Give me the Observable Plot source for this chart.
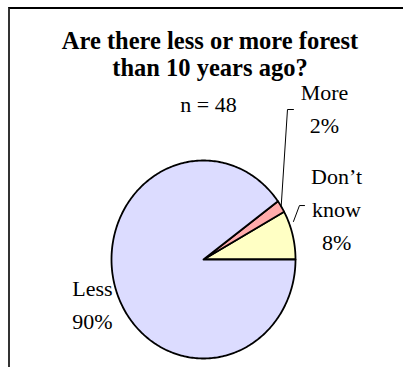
<!DOCTYPE html>
<html><head><meta charset="utf-8">
<script src="https://cdn.jsdelivr.net/npm/d3@7"></script>
<script src="https://cdn.jsdelivr.net/npm/@observablehq/plot@0.6"></script>
<style>
body{margin:0;background:#fff;}
#wrap{position:relative;width:403px;height:367px;overflow:hidden;font-family:"Liberation Serif",serif;}
#frame{position:absolute;left:8px;top:7px;width:420px;height:400px;border-left:2px solid #333;border-top:2px solid #000;}
#title{position:absolute;left:10px;width:400px;top:26.5px;text-align:center;font-weight:bold;font-size:24.5px;line-height:27px;color:#000;font-family:"Liberation Serif",serif;white-space:nowrap;}
#chart{position:absolute;left:0;top:0;}
</style></head>
<body>
<div id="wrap">
  <div id="frame"></div>
  <div id="title">Are there less or more forest<br>than 10 years ago?</div>
  <div id="chart"></div>
</div>
<script>
// ---- data (counter-clockwise from 3 o'clock) ----
const categories = ["Don’t know", "More", "Less"];
const shares = [8, 2, 90];
const labelLines = [["Don’t", "know"], ["More"], ["Less"]];
const sampleSize = 48;

// ---- layout (data units of the unit circle) ----
const patterns = ["url(#pDK)", "url(#pMore)", "url(#pLess)"];
const labelAnchor = [[1.446, 0.535], [1.315, 1.553], [-1.207, -0.432]];
const leaderElbow = [[[0.978, 0.384], [1.043, 0.545], [1.098, 0.545]],
                     [null, [0.913, 1.515], [0.978, 1.515]],
                     null];

const total = d3.sum(shares);
let cum = 0;
const slices = categories.map((c, i) => {
  const a0 = 2 * Math.PI * cum / total;
  cum += shares[i];
  const a1 = 2 * Math.PI * cum / total;
  return {cat: c, a0, a1, share: shares[i], i};
});

const pts = [];
for (const s of slices) {
  pts.push({cat: s.cat, x: 0, y: 0});
  const n = Math.max(4, Math.ceil((s.a1 - s.a0) / (Math.PI / 180)));
  for (let k = 0; k <= n; k++) {
    const a = s.a0 + (s.a1 - s.a0) * k / n;
    pts.push({cat: s.cat, x: Math.cos(a), y: Math.sin(a)});
  }
}

const labels = slices.map(s => ({
  text: [...labelLines[s.i], Math.round(100 * s.share / total) + "%"].join("\n"),
  x: labelAnchor[s.i][0], y: labelAnchor[s.i][1]
}));

const leaders = [];
slices.forEach(s => {
  const L = leaderElbow[s.i];
  if (!L) return;
  L.forEach(p => {
    if (p) leaders.push({cat: s.cat, x: p[0], y: p[1]});
    else {
      const am = (s.a0 + s.a1) / 2;
      leaders.push({cat: s.cat, x: Math.cos(am), y: Math.sin(am)});
    }
  });
});

const marks = slices.map(s =>
  Plot.line(pts.filter(d => d.cat === s.cat), {
    x: "x", y: "y", fill: patterns[s.i], stroke: "#000", strokeWidth: 1.8,
    strokeLinejoin: "round", curve: "linear-closed"
  })
);
marks.push(Plot.line(leaders, {x: "x", y: "y", z: "cat", stroke: "#000", strokeWidth: 1}));
marks.push(Plot.text(labels, {
  x: "x", y: "y", text: "text", fontSize: 22, lineHeight: 1.5,
  lineAnchor: "middle", textAnchor: "middle", fill: "#000", fontFamily: "Liberation Serif, serif"
}));
marks.push(Plot.text([`n = ${sampleSize}`], {
  x: () => 0.054, y: () => 1.563, text: d => d, fontSize: 22,
  lineAnchor: "middle", textAnchor: "middle", fill: "#000", fontFamily: "Liberation Serif, serif"
}));

const svg = Plot.plot({
  width: 403, height: 367,
  margin: 0,
  x: {domain: [-1, 1], range: [111, 295], axis: null},
  y: {domain: [-1, 1], range: [358, 160], axis: null},
  style: {background: "transparent", fontFamily: "'Liberation Serif', serif", overflow: "visible"},
  marks
});

const defs = document.createElementNS("http://www.w3.org/2000/svg", "defs");
defs.innerHTML =
  `<pattern id="pLess" patternUnits="userSpaceOnUse" width="4" height="2">
     <rect width="4" height="2" fill="#ffffff"/><rect width="4" height="1" fill="#b8b8ff"/></pattern>
   <pattern id="pMore" patternUnits="userSpaceOnUse" width="2" height="4">
     <rect width="2" height="4" fill="#ffd6d6"/><rect width="1" height="4" fill="#ff8080"/></pattern>
   <pattern id="pDK" patternUnits="userSpaceOnUse" width="4" height="4">
     <rect width="4" height="4" fill="#ffffc4"/></pattern>`;
svg.insertBefore(defs, svg.firstChild);
document.getElementById("chart").appendChild(svg);
</script>
</body></html>
